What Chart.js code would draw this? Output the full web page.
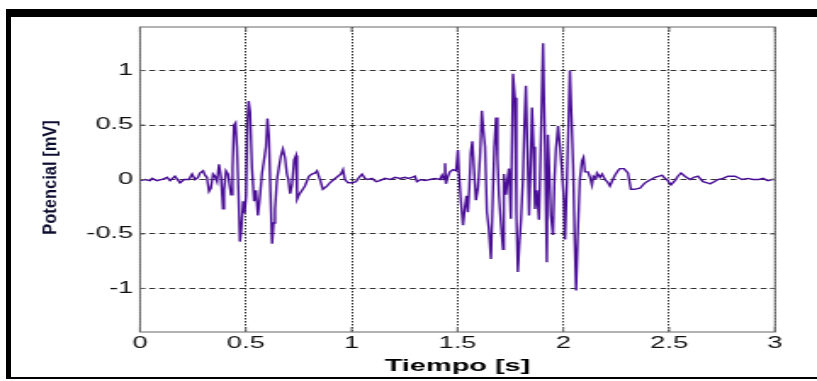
<!DOCTYPE html>
<html>
<head>
<meta charset="utf-8">
<script src="https://cdn.jsdelivr.net/npm/chart.js@4"></script>
<style>
  html, body { margin: 0; padding: 0; background: #fff; }
  #marco {
    position: absolute; left: 6px; top: 9px; width: 811px; height: 370px;
    box-sizing: border-box;
    border-top: 8px solid #000; border-left: 5px solid #000; border-bottom: 2px solid #000;
  }
  #grafico { position: absolute; left: 0; top: 0; }
</style>
</head>
<body>
<div id="marco"></div>
<canvas id="grafico" width="481" height="381" style="width:817px;height:381px"></canvas>
<script>
// the figure is stretched sideways, so the canvas is drawn narrow and widened by css
const ESTIRADO = 817 / 481;

// [tiempo (s), potencial (mV)]
const reposoInicio = [
  [0.000,-0.01],[0.024,0.00],[0.047,-0.01],[0.057,0.01],[0.080,-0.01],[0.104,0.00],[0.128,0.02],
  [0.142,-0.01],[0.165,0.03],[0.189,-0.03],[0.208,0.00],[0.231,0.00],[0.246,0.05],[0.260,0.00],
  [0.274,0.02],[0.283,0.06],[0.298,0.08],[0.307,0.04],[0.316,0.02],[0.326,-0.11],[0.335,-0.08],
  [0.345,0.05],[0.354,0.03],[0.364,-0.02]
];
const rafaga1 = [
  [0.373,0.14],[0.383,0.02],[0.392,-0.27],[0.397,-0.10],[0.406,0.08],[0.416,0.05],[0.423,-0.05],
  [0.430,-0.14],[0.437,0.10],[0.444,0.50],[0.451,0.52],[0.458,0.30],[0.465,-0.10],[0.472,-0.57],
  [0.479,-0.45],[0.487,-0.20],[0.494,-0.31],[0.501,-0.15],[0.508,0.55],[0.513,0.72],[0.520,0.62],
  [0.529,0.10],[0.539,-0.20],[0.548,-0.10],[0.557,-0.33],[0.567,-0.15],[0.576,0.05],[0.586,0.18],
  [0.595,0.30],[0.602,0.56],[0.609,0.40],[0.616,-0.10],[0.624,-0.59],[0.631,-0.40],[0.638,-0.27],
  [0.647,0.00],[0.657,0.12],[0.666,0.22],[0.675,0.28],[0.685,0.20],[0.694,0.05],[0.701,0.00],
  [0.709,-0.13],[0.718,-0.05],[0.728,0.18],[0.737,0.22],[0.742,-0.18],[0.751,-0.14]
];
const reposoMedio = [
  [0.765,-0.10],[0.779,-0.06],[0.798,0.03],[0.812,0.05],[0.827,0.06],[0.836,0.08],[0.850,0.00],
  [0.864,-0.09],[0.883,-0.06],[0.897,-0.03],[0.916,0.00],[0.935,0.03],[0.949,0.05],[0.959,0.09],
  [0.968,0.00],[0.983,-0.03],[1.001,-0.03],[1.020,-0.02],[1.035,0.02],[1.049,0.05],[1.063,0.01],
  [1.077,0.00],[1.096,0.01],[1.115,-0.02],[1.134,-0.01],[1.157,0.01],[1.181,0.00],[1.205,0.02],
  [1.228,0.01],[1.252,0.02],[1.266,0.01],[1.285,0.02],[1.299,0.03],[1.308,-0.02],[1.327,0.00],
  [1.346,-0.01],[1.370,0.00],[1.393,0.01],[1.417,0.00],[1.427,0.04],[1.436,0.00],[1.441,0.15],
  [1.445,-0.04],[1.455,0.03],[1.464,0.07],[1.479,0.09],[1.493,0.08]
];
const rafaga2 = [
  [1.502,0.27],[1.507,0.05],[1.516,-0.20],[1.526,-0.42],[1.535,-0.25],[1.542,-0.15],[1.549,-0.30],
  [1.556,-0.07],[1.563,0.25],[1.570,0.35],[1.578,0.10],[1.587,-0.19],[1.597,-0.07],[1.606,0.20],
  [1.615,0.63],[1.622,0.45],[1.630,0.30],[1.639,-0.30],[1.648,-0.45],[1.658,-0.73],[1.667,-0.14],
  [1.674,0.30],[1.682,0.57],[1.689,0.20],[1.696,-0.15],[1.705,-0.40],[1.715,-0.64],[1.719,0.05],
  [1.729,-0.14],[1.736,0.00],[1.743,0.10],[1.752,-0.36],[1.762,0.97],[1.771,0.75],[1.778,-0.30],
  [1.785,-0.85],[1.792,-0.60],[1.800,-0.37],[1.809,0.00],[1.816,0.50],[1.823,0.86],[1.830,0.30],
  [1.838,-0.33],[1.845,0.10],[1.852,0.66],[1.859,0.30],[1.866,-0.27],[1.875,-0.10],[1.885,-0.37],
  [1.894,0.38],[1.904,1.25],[1.913,0.32],[1.922,-0.76],[1.927,0.41],[1.934,0.05],[1.941,-0.33],
  [1.951,-0.51],[1.958,0.00],[1.965,0.28],[1.975,0.49],[1.984,0.30],[1.993,0.09],[2.003,-0.20],
  [2.008,-0.55],[2.017,0.00],[2.024,0.50],[2.031,1.00],[2.038,0.60],[2.046,0.14],[2.053,-0.50],
  [2.060,-1.02],[2.069,-0.45],[2.078,0.00],[2.088,0.17],[2.095,0.20]
];
const reposoFinal = [
  [2.102,0.07],[2.116,0.07],[2.126,0.02],[2.135,-0.05],[2.142,0.03],[2.154,0.01],[2.159,0.06],
  [2.173,0.02],[2.183,0.05],[2.197,0.00],[2.211,-0.03],[2.220,-0.06],[2.234,0.00],[2.244,0.04],
  [2.258,0.08],[2.267,0.10],[2.286,0.10],[2.305,0.06],[2.319,-0.09],[2.334,-0.09],[2.362,-0.08],
  [2.381,-0.04],[2.395,-0.02],[2.414,0.00],[2.433,0.02],[2.452,0.03],[2.466,0.04],[2.480,0.01],
  [2.489,0.00],[2.508,-0.05],[2.527,-0.01],[2.541,0.03],[2.556,0.06],[2.574,0.03],[2.598,0.00],
  [2.617,0.02],[2.636,0.03],[2.660,-0.02],[2.679,-0.03],[2.693,-0.04],[2.712,-0.02],[2.730,0.00],
  [2.754,0.01],[2.778,0.03],[2.811,0.03],[2.844,0.00],[2.872,0.01],[2.896,0.00],[2.924,0.00],
  [2.943,0.01],[2.966,-0.01],[2.985,0.00],[3.000,0.00]
];

const ticksX = [0, 0.5, 1, 1.5, 2, 2.5, 3];
const ticksY = [-1, -0.5, 0, 0.5, 1];
const tituloX = 'Tiempo [s]';
const tituloY = 'Potencial [mV]';

const senal = [...reposoInicio, ...rafaga1, ...reposoMedio, ...rafaga2, ...reposoFinal]
  .map(p => ({ x: p[0], y: p[1] }));

const fuente = "'Liberation Sans', Arial, sans-serif";

// matlab style box, inward ticks and the y label (drawn almost unstretched)
const cajaEjes = {
  id: 'cajaEjes',
  afterDraw(chart) {
    const { ctx, chartArea: a, scales } = chart;
    ctx.save();
    ctx.strokeStyle = '#666';
    ctx.lineWidth = 1;
    ctx.strokeRect(a.left, a.top, a.right - a.left, a.bottom - a.top);
    ctx.beginPath();
    ticksX.forEach(v => {
      const x = scales.x.getPixelForValue(v);
      ctx.moveTo(x, a.top); ctx.lineTo(x, a.top + 5);
      ctx.moveTo(x, a.bottom); ctx.lineTo(x, a.bottom - 5);
    });
    ticksY.forEach(v => {
      const y = scales.y.getPixelForValue(v);
      ctx.moveTo(a.right, y); ctx.lineTo(a.right - 3, y);
      ctx.moveTo(a.left, y); ctx.lineTo(a.left + 3, y);
    });
    ctx.stroke();

    ctx.translate(50 / ESTIRADO, (a.top + a.bottom) / 2 - 2);
    ctx.scale(1.15 / ESTIRADO, 1);
    ctx.rotate(-Math.PI / 2);
    ctx.fillStyle = '#0d0d30';
    ctx.font = "bold 16.5px " + fuente;
    ctx.textAlign = 'center';
    ctx.textBaseline = 'middle';
    ctx.fillText(tituloY, 0, 0);
    ctx.restore();
  }
};

new Chart(document.getElementById('grafico'), {
  type: 'line',
  data: {
    datasets: [{
      data: senal,
      borderColor: '#4a0e96',
      borderWidth: 1.4,
      pointRadius: 0,
      tension: 0,
      fill: false
    }]
  },
  options: {
    responsive: false,
    animation: false,
    devicePixelRatio: 1,
    layout: { padding: { top: 27, right: 481 - 775 / ESTIRADO, bottom: 0, left: 0 } },
    plugins: { legend: { display: false }, tooltip: { enabled: false } },
    scales: {
      x: {
        type: 'linear',
        min: 0,
        max: 3,
        afterBuildTicks: s => { s.ticks = ticksX.map(v => ({ value: v })); },
        afterFit: s => { s.height = 49; },
        grid: { color: '#333', lineWidth: 1, drawTicks: false },
        border: { display: false, dash: [1.5, 1.5] },
        ticks: {
          padding: 2,
          color: '#111',
          font: { family: fuente, size: 16 },
          maxRotation: 0,
          callback: v => String(v)
        },
        title: {
          display: true,
          text: tituloX,
          color: '#000',
          font: { family: fuente, size: 17, weight: 'bold' },
          padding: { top: 0, bottom: 4 }
        }
      },
      y: {
        min: -1.4,
        max: 1.4,
        afterBuildTicks: s => { s.ticks = ticksY.map(v => ({ value: v })); },
        afterFit: s => { s.width = 140 / ESTIRADO; },
        grid: { color: '#333', lineWidth: 1, drawTicks: false },
        border: { display: false, dash: [3.5, 2.4] },
        ticks: {
          padding: 4,
          color: '#111',
          font: { family: fuente, size: 16 },
          callback: v => String(v)
        }
      }
    }
  },
  plugins: [cajaEjes]
});
</script>
</body>
</html>
